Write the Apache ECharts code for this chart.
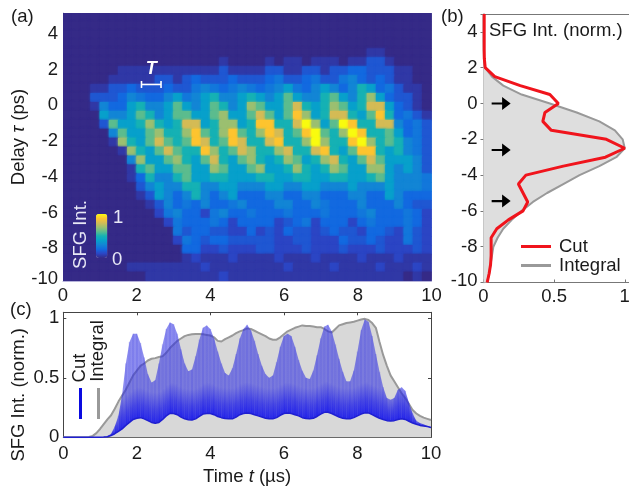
<!DOCTYPE html>
<html>
<head>
<meta charset="utf-8">
<style>html,body{margin:0;padding:0;background:#fff}#c{width:629px;height:487px}</style>
<script src="https://cdn.jsdelivr.net/npm/echarts@6/dist/echarts.min.js"></script>
</head>
<body>
<div id="c"></div>
<script>
// (a) map: rows top (5 ps) to bottom (-10 ps), 0.5 ps high; 40 cells of 0.25 us. Digits = tenths, a = 1, x=.05, y=.15, z=.25
const heatRows = [
"0000000000 0000000000 0000000000 0000000000",
"0000000000 0000000000 0000000000 0000000000",
"0000000000 0000000000 0000000000 0000000000",
"0000000000 0000000000 0000000000 0000000000",
"0000000000 0000000000 0000000000 000xx00000",
"0000000000 0000000x00 00x0xx0xxx 0xxyyx0000",
"000000xxxx xxxxxxxyxx xxyyxxyyxy y22yyyxx00",
"00000xxxxx yyxy2yyy2y yy2zyy2zyy z32y2yxx00",
"000xxyy2yy y2yyz3z2z3 z2z34z2343 23542zyxx0",
"000yyy23z2 234z345334 5434643356 435742yyx0",
"000x322453 3464346534 7644685457 6458842yx0",
"0000433465 3466446744 6864697458 8546952zyx",
"0000y64457 5458845774 599558a746 a9558832zy",
"0000036446 7557965796 5798569a65 7a955642zy",
"00000x7546 8656985698 5589557a75 59a75653zy",
"000000x754 6865597568 7557855895 46995453zy",
"0000000374 4675468546 7545764578 546864443y",
"0000000x56 4466447644 6744575457 644774343y",
"0000000x25 3356445544 4554455445 544564333z",
"00000000y3 4335533443 3344334433 343334333z",
"00000000xy 4323532342 2233223322 2332243222",
"000000000x y32z2322z3 22233223z2 22322232yy",
"0000000000 1z3221z322 z222z222z2 22z3222z21",
"0000000000 01z222z212 2221y2z122 212z222z21",
"0000000000 00zy22yy11 21y12yy1y2 yy122y1zy1",
"0000000000 001z2y22yy yyy11yy111 2yy2y11zy1",
"0000000000 0002211y11 1yy111y111 y111y111y1",
"0000000000 000x1xxx1x xxx1xxx1xx xx1xxx1xxx",
"0000000xxx xxxxx1xxxx xxxx1xxxx1 xxxx1xxx1x",
"000000000x xxxxxxx1xx xxxxxxxxxx xxxxxxx0x0"
];
const heatLevels = {x:0.05,y:0.15,z:0.25,a:1};
const parula = ['#352a87','#2b45c4','#1269e0','#1285d5','#07a0cb','#15b1b4','#5bbc8e','#9bbf70','#d4bb55','#fdc42f','#f9fb0e'];
const periodMarker = [[2.13,2.66,1]];

// (b) profiles from -10 ps to 5 ps
const delaySteps = ['-10','-9.5','-9','-8.5','-8','-7.5','-7','-6.5','-6','-5.5','-5','-4.5','-4','-3.5','-3','-2.5','-2','-1.5','-1','-0.5','0','0.5','1','1.5','2','2.5','3','3.5','4','4.5','5'];
const cutProfile = [.026,.04,.05,.054,.054,.054,.094,.176,.28,.313,.28,.247,.30,.565,.863,1,.87,.48,.42,.435,.53,.47,.26,.08,.012,.006,.005,.005,.005,.005,.005];
const integralProfile = [.025,.04,.05,.06,.07,.10,.14,.20,.27,.35,.45,.565,.68,.82,.94,1,.985,.93,.82,.66,.47,.27,.14,.06,.012,.003,.001,0,0,0,0];
const arrowMarks = [[.125,0],[.125,-2.6],[.125,-5.45]];

// (c) traces sampled every 0.1 us from 0 to 10
const timeSteps = [0,.1,.2,.3,.4,.5,.6,.7,.8,.9,1,1.1,1.2,1.3,1.4,1.5,1.6,1.7,1.8,1.9,2,2.1,2.2,2.3,2.4,2.5,2.6,2.7,2.8,2.9,3,3.1,3.2,3.3,3.4,3.5,3.6,3.7,3.8,3.9,4,4.1,4.2,4.3,4.4,4.5,4.6,4.7,4.8,4.9,5,5.1,5.2,5.3,5.4,5.5,5.6,5.7,5.8,5.9,6,6.1,6.2,6.3,6.4,6.5,6.6,6.7,6.8,6.9,7,7.1,7.2,7.3,7.4,7.5,7.6,7.7,7.8,7.9,8,8.1,8.2,8.3,8.4,8.5,8.6,8.7,8.8,8.9,9,9.1,9.2,9.3,9.4,9.5,9.6,9.7,9.8,9.9,10];
const cutUpper = [0,0,0,0,0,0,0,0,0,.002,.003,.005,.01,.03,.09,.18,.36,.62,.80,.87,.87,.79,.67,.53,.46,.48,.62,.78,.91,.965,.95,.87,.74,.62,.555,.57,.68,.82,.92,.94,.91,.83,.72,.62,.54,.52,.58,.70,.83,.91,.945,.90,.81,.70,.60,.53,.50,.52,.63,.76,.85,.87,.85,.76,.65,.56,.50,.49,.56,.69,.83,.93,.945,.89,.78,.66,.55,.47,.47,.56,.72,.90,.99,.97,.85,.70,.55,.42,.33,.315,.33,.40,.42,.39,.29,.20,.14,.12,.11,.095,.085];
const cutLower = [0,0,0,0,0,0,0,0,0,0,.001,.002,.005,.015,.03,.05,.07,.10,.125,.15,.16,.165,.155,.14,.125,.118,.125,.15,.18,.20,.20,.19,.17,.155,.148,.145,.155,.175,.195,.20,.20,.19,.175,.165,.158,.155,.155,.17,.19,.20,.205,.20,.19,.18,.17,.16,.155,.155,.165,.185,.20,.205,.20,.19,.18,.165,.158,.155,.16,.175,.195,.21,.21,.20,.185,.17,.16,.155,.155,.165,.18,.195,.205,.205,.19,.175,.16,.15,.14,.137,.14,.15,.155,.15,.135,.12,.11,.10,.095,.09,.082];
const integralTrace = [0,0,0,0,0,0,0,.003,.012,.035,.07,.11,.15,.185,.24,.30,.35,.40,.46,.52,.56,.60,.62,.645,.66,.665,.675,.68,.71,.75,.78,.81,.83,.85,.86,.865,.868,.868,.865,.86,.855,.84,.81,.805,.825,.84,.855,.875,.89,.90,.915,.91,.895,.88,.865,.85,.83,.82,.82,.84,.865,.89,.905,.92,.93,.94,.935,.935,.93,.925,.925,.91,.89,.88,.91,.94,.95,.96,.965,.97,.98,.99,.995,.985,.96,.92,.80,.69,.60,.52,.47,.42,.37,.33,.28,.23,.20,.18,.165,.155,.145];

const FONT = '"Liberation Sans", Arial, sans-serif';
const INK = '#1a1a1a';
const FS = 18.5;

const heatData = [];
heatRows.forEach((row, r) => {
  row.replace(/ /g,'').split('').forEach((ch, i) => {
    const v = ch in heatLevels ? heatLevels[ch] : (+ch)/10;
    heatData.push([i*0.25, 4.5 - r*0.5, v]);
  });
});

function renderCell(params, api){
  const t = api.value(0), d = api.value(1);
  const p0 = api.coord([t, d+0.5]), p1 = api.coord([t+0.25, d]);
  const c = api.visual('color');
  return {type:'rect', shape:{x:p0[0]-0.3, y:p0[1]-0.3, width:p1[0]-p0[0]+0.6, height:p1[1]-p0[1]+0.6},
    style:{fill:c, shadowBlur:2.5, shadowColor:c}};
}
function renderPeriod(params, api){
  const a = api.coord([api.value(0), api.value(2)]), b = api.coord([api.value(1), api.value(2)]);
  const ln = (x1,y1,x2,y2)=>({type:'line',shape:{x1,y1,x2,y2},style:{stroke:'#fff',lineWidth:1.6}});
  return {type:'group',children:[
    ln(a[0],a[1],b[0],b[1]), ln(a[0],a[1]-3.5,a[0],a[1]+3.5), ln(b[0],b[1]-3.5,b[0],b[1]+3.5),
    {type:'text',style:{text:'T',x:(a[0]+b[0])/2,y:a[1]-15,align:'center',verticalAlign:'middle',fill:'#fff',font:'italic bold 18px '+FONT}}
  ]};
}
function combFill(low, up, aTop, aMid, aLow){
  const f = Math.min(1, .26/Math.max(up-low,.001));
  return {type:'linear',x:0,y:0,x2:0,y2:1,colorStops:[
    {offset:0,color:'rgba(45,45,225,'+aTop+')'},
    {offset:Math.max(0,1-f),color:'rgba(45,45,225,'+aTop+')'},
    {offset:Math.max(0,1-f*.45),color:'rgba(30,30,230,'+aMid+')'},
    {offset:1,color:'rgba(20,20,235,'+aLow+')'}]};
}
function renderComb(params, api){
  const i = params.dataIndex;
  const t0 = api.value(0,i), lo0 = api.value(1,i), up0 = api.value(2,i);
  if (i >= timeSteps.length-1 || up0 < .004) return null;
  const t1 = api.value(0,i+1), lo1 = api.value(1,i+1), up1 = api.value(2,i+1);
  const a = api.coord([t0,lo0]), b = api.coord([t0,up0]), c = api.coord([t1,up1]), d = api.coord([t1,lo1]);
  return {type:'group',children:[
    {type:'polygon',shape:{points:[a,b,c,d]},style:{fill:combFill(Math.min(lo0,lo1),Math.max(up0,up1),.55,.78,.9)}},
    {type:'rect',shape:{x:b[0]-.8,y:b[1],width:1.6,height:a[1]-b[1]},style:{fill:combFill(lo0,up0,.22,.3,.4)}}
  ]};
}

const plainLine = {show:true,onZero:false,lineStyle:{color:'#777',width:1}};
const rotText = (text,x,y,fill,size)=>({type:'text',rotation:Math.PI/2,x,y,
  style:{text,align:'center',verticalAlign:'middle',fill,font:size+'px '+FONT},z:50});
const txt = (text,x,y,fill,size)=>({type:'text',x,y,
  style:{text,align:'left',verticalAlign:'middle',fill,font:size+'px '+FONT},z:50});
const bar = (x,y,w,h,fill)=>({type:'rect',shape:{x,y,width:w,height:h},style:{fill},z:50});
const tickRich = {
  n:{fontSize:FS,fontFamily:FONT,color:INK,padding:[6,0,0,0]},
  b:{fontSize:FS,fontFamily:FONT,color:INK,padding:[0,0,4,0]}
};
const nameRich = {
  a:{fontSize:FS,fontFamily:FONT,color:INK},
  i:{fontSize:FS,fontFamily:FONT,color:INK,fontStyle:'italic'}
};

const chart = echarts.init(document.getElementById('c'),null,{renderer:'canvas'});
chart.setOption({
  animation:false,
  backgroundColor:'#fff',
  textStyle:{fontFamily:FONT},
  grid:[
    {left:63,top:13,width:368.5,height:268,outerBoundsMode:'none'},
    {left:483.5,top:14,width:145.5,height:268.5,outerBoundsMode:'none'},
    {left:63.3,top:312.3,width:367.7,height:125,outerBoundsMode:'none'}
  ],
  xAxis:[
    {gridIndex:0,type:'value',min:0,max:10,interval:2,splitLine:{show:false},axisTick:{show:false},
     axisLine:{show:true,onZero:false,lineStyle:{color:'#b6b3da',width:1}},
     axisLabel:{fontSize:FS,color:INK,fontFamily:FONT,margin:5}},
    {gridIndex:1,type:'value',min:0,max:1.03,splitLine:{show:false},
     axisLine:plainLine,axisTick:{show:true,inside:true,length:3,lineStyle:{color:'#777'},customValues:[0,.5,1]},
     axisLabel:{fontSize:FS,color:INK,fontFamily:FONT,margin:5,customValues:[0,.5,1]}},
    {gridIndex:1,type:'value',position:'top',min:0,max:1.03,splitLine:{show:false},
     axisLine:plainLine,axisTick:{show:false},axisLabel:{show:false}},
    {gridIndex:2,type:'value',min:0,max:10,interval:2,splitLine:{show:false},
     name:'{a|Time }{i|t}{a| (µs)}',nameLocation:'middle',nameGap:30,nameMoveOverlap:false,nameTextStyle:{rich:nameRich},
     axisLine:{show:true,onZero:false,lineStyle:{color:'#444',width:1}},axisTick:{show:true,inside:true,length:3,lineStyle:{color:'#444'}},
     axisLabel:{fontSize:FS,color:INK,fontFamily:FONT,margin:7}},
    {gridIndex:2,type:'value',position:'top',min:0,max:10,interval:2,splitLine:{show:false},
     axisLine:{show:true,onZero:false,lineStyle:{color:'#444',width:1}},axisTick:{show:true,inside:true,length:3,lineStyle:{color:'#444'}},axisLabel:{show:false}}
  ],
  yAxis:[
    {gridIndex:0,type:'value',min:-10,max:5,interval:2,splitLine:{show:false},axisTick:{show:false},
     name:'{a|Delay }{i|τ}{a| (ps)}',nameLocation:'middle',nameGap:35,nameRotate:90,nameMoveOverlap:false,
     nameTextStyle:{rich:nameRich,padding:[0,0,0,20]},
     axisLine:{show:true,onZero:false,lineStyle:{color:'#b6b3da',width:1}},
     axisLabel:{margin:5,showMaxLabel:false,formatter:v=>v===-10?'{b|-10}':'{n|'+v+'}',rich:tickRich}},
    {gridIndex:1,type:'category',data:delaySteps,boundaryGap:false,splitLine:{show:false},
     axisLine:{show:true,onZero:false,lineStyle:{color:'#999',width:1.6}},axisTick:{show:false},
     axisLabel:{interval:3,margin:6,formatter:v=>v==='-10'?'{b|-10}':'{m|'+v+'}',
       rich:{m:{fontSize:FS,fontFamily:FONT,color:INK},b:tickRich.b}}},
    {gridIndex:1,type:'value',position:'right',min:-10,max:5,interval:2,splitLine:{show:false},
     axisLine:{show:false},axisTick:{show:true,inside:true,length:3,lineStyle:{color:'#777'}},axisLabel:{show:false}},
    {gridIndex:2,type:'value',min:0,max:1.05,splitLine:{show:false},
     name:'SFG Int. (norm.)',nameLocation:'middle',nameGap:35,nameRotate:90,nameMoveOverlap:false,
     nameTextStyle:{fontSize:FS,color:INK,fontFamily:FONT,padding:[0,40,0,0]},
     axisLine:{show:true,onZero:false,lineStyle:{color:'#444',width:1}},
     axisTick:{show:true,inside:true,length:3,lineStyle:{color:'#444'},customValues:[0,.5,1]},
     axisLabel:{fontSize:FS,color:INK,fontFamily:FONT,margin:4,customValues:[0,.5,1]}},
    {gridIndex:2,type:'value',position:'right',min:0,max:1.05,splitLine:{show:false},
     axisLine:{show:true,onZero:false,lineStyle:{color:'#444',width:1}},
     axisTick:{show:true,inside:true,length:3,lineStyle:{color:'#444'},customValues:[0,.5,1]},axisLabel:{show:false}}
  ],
  visualMap:[{
    type:'continuous',seriesIndex:0,dimension:2,min:0,max:1,show:true,calculable:false,hoverLink:false,
    left:96,top:214,itemWidth:11.3,itemHeight:44,padding:0,text:null,
    inRange:{color:parula}
  }],
  legend:{
    data:[{name:'Cut',icon:'rect'},{name:'Integral',icon:'rect'}],orient:'vertical',left:521,top:237,
    itemWidth:30,itemHeight:3,itemGap:0,
    textStyle:{fontSize:FS,color:INK,fontFamily:FONT,padding:[0,0,0,3]},selectedMode:false,padding:0
  },
  series:[
    {type:'custom',name:'SFG map',xAxisIndex:0,yAxisIndex:0,data:heatData,renderItem:renderCell,silent:true,z:2,clip:true},
    {type:'custom',name:'Period T',xAxisIndex:0,yAxisIndex:0,data:periodMarker,renderItem:renderPeriod,silent:true,z:6},
    {type:'line',name:'Integral',xAxisIndex:1,yAxisIndex:1,data:integralProfile,symbol:'none',z:3,
     itemStyle:{color:'#999'},lineStyle:{color:'#999',width:2},areaStyle:{color:'#dedede',opacity:1}},
    {type:'line',name:'Cut',xAxisIndex:1,yAxisIndex:1,data:cutProfile,symbol:'none',z:4,
     itemStyle:{color:'#f0141c'},lineStyle:{color:'#f0141c',width:3}},
    {type:'scatter',name:'Arrows',xAxisIndex:1,yAxisIndex:2,data:arrowMarks,z:5,silent:true,
     symbol:'path://M0 5 L11 5 L11 0 L20 6 L11 12 L11 7 L0 7 Z',symbolSize:[19,13],symbolKeepAspect:false,
     itemStyle:{color:'#000',opacity:1}},
    {type:'line',name:'Integral trace',xAxisIndex:3,yAxisIndex:3,
     data:timeSteps.map((t,i)=>[t,integralTrace[i]]),symbol:'none',z:3,
     lineStyle:{color:'#999',width:2},itemStyle:{color:'#999'},areaStyle:{color:'#d8d8d8',opacity:1}},
    {type:'custom',name:'Cut trace',xAxisIndex:3,yAxisIndex:3,
     data:timeSteps.map((t,i)=>[t,cutLower[i],cutUpper[i]]),renderItem:renderComb,silent:true,z:4},
    {type:'line',name:'Cut lower envelope',xAxisIndex:3,yAxisIndex:3,
     data:timeSteps.map((t,i)=>[t,cutLower[i]]),symbol:'none',z:5,
     lineStyle:{color:'#1f1fd0',width:1.5},itemStyle:{color:'#1f1fd0'}}
  ],
  graphic:[
    txt('(a)',11,17,INK,FS), txt('(b)',441,17,INK,FS), txt('(c)',10,310,INK,FS),
    txt('SFG Int. (norm.)',489,31,INK,FS),
    rotText('SFG Int.',81,234.5,'#e8e8f6',FS),
    txt('1',113,218,'#e8e8f6',FS), txt('0',112,260,'#e8e8f6',FS),
    rotText('Cut',80,368,INK,FS), rotText('Integral',98,351,INK,FS),
    bar(79,388,3,31,'#0a0ae0'), bar(97,388,3,31,'#999')
  ]
});
</script>
</body>
</html>
